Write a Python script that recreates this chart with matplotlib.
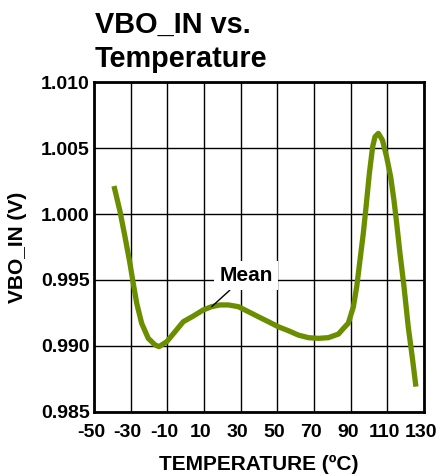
import matplotlib
matplotlib.use('Agg')
import matplotlib.pyplot as plt
import matplotlib.transforms as mtransforms

# данные (температура, °C / напряжение, В)
temp = [-39.1, -35.8, -33.1, -30.4, -28.6, -26.7, -24.0, -20.4, -16.7, -14.5,
        -10.3, -5.8, -1.3, 4.2, 9.6, 14.2, 18.7, 23.3, 28.7, 34.2,
        39.6, 45.1, 50.5, 56.0, 61.4, 66.9, 72.4, 77.8, 83.3, 86.9,
        88.7, 91.5, 93.3, 95.1, 96.9, 98.4, 100.2, 102.0, 103.3, 105.1,
        107.3, 109.6, 111.8, 113.6, 115.1, 116.9, 119.1, 121.4, 123.8, 125.6]
vbo_in = [1.00212, 1.00020, 0.99828, 0.99627, 0.99476, 0.99324, 0.99172, 0.99058, 0.99008, 0.98995,
          0.99033, 0.99108, 0.99184, 0.99227, 0.99273, 0.99298, 0.99311, 0.99311, 0.99298, 0.99260,
          0.99222, 0.99184, 0.99146, 0.99116, 0.99083, 0.99063, 0.99058, 0.99063, 0.99090, 0.99146,
          0.99172, 0.99298, 0.99449, 0.99652, 0.99854, 1.00055, 1.00308, 1.00510, 1.00586, 1.00611,
          1.00561, 1.00434, 1.00283, 1.00106, 0.99930, 0.99702, 0.99449, 0.99146, 0.98894, 0.98692]

x_ticks = [-50, -30, -10, 10, 30, 50, 70, 90, 110, 130]
y_ticks = [0.985, 0.990, 0.995, 1.000, 1.005, 1.010]

plt.rcParams['font.family'] = ['Liberation Sans', 'DejaVu Sans']
plt.rcParams['font.weight'] = 'bold'
plt.rcParams['axes.unicode_minus'] = False

fig = plt.figure(figsize=(4.45, 4.76), dpi=100)
ax = fig.add_axes([0.2112, 0.1345, 0.7416, 0.6932])

ax.plot(temp, vbo_in, color='#6b8e00', lw=3.8, solid_capstyle='butt',
        solid_joinstyle='round', zorder=3)

ax.set_xlim(-50, 130)
ax.set_ylim(0.985, 1.010)
ax.set_xticks(x_ticks)
ax.set_yticks(y_ticks)
ax.set_yticklabels([f'{v:.3f}' for v in y_ticks])
ax.grid(True, color='black', lw=1.0)
ax.tick_params(length=0, labelsize=14)
ax.tick_params(axis='x', pad=9)
ax.tick_params(axis='y', pad=3)
for s in ax.spines.values():
    s.set_linewidth(2)

# подписи оси X в оригинале чуть сдвинуты влево
shift = mtransforms.ScaledTranslation(-3 / 100, 0, fig.dpi_scale_trans)
for lbl in ax.get_xticklabels():
    lbl.set_transform(lbl.get_transform() + shift)

ax.set_xlabel('TEMPERATURE (ºC)', fontsize=15, fontweight='bold', labelpad=10)
ax.set_ylabel('VBO_IN (V)', fontsize=15, fontweight='bold', labelpad=10)

ax.annotate('Mean', xy=(14.2, 0.99298), xytext=(32.9, 0.99534),
            fontsize=15, fontweight='bold', ha='center', va='center',
            bbox=dict(boxstyle='square,pad=0.25', fc='white', ec='none'),
            arrowprops=dict(arrowstyle='-', color='black', lw=1, shrinkA=0, shrinkB=0),
            zorder=4)

fig.text(0.213, 1 - 33 / 476, 'VBO_IN vs.', fontsize=20.8, fontweight='bold',
         ha='left', va='baseline')
fig.text(0.213, 1 - 67 / 476, 'Temperature', fontsize=20.8, fontweight='bold',
         ha='left', va='baseline')

fig.savefig('out.png', dpi=100)
